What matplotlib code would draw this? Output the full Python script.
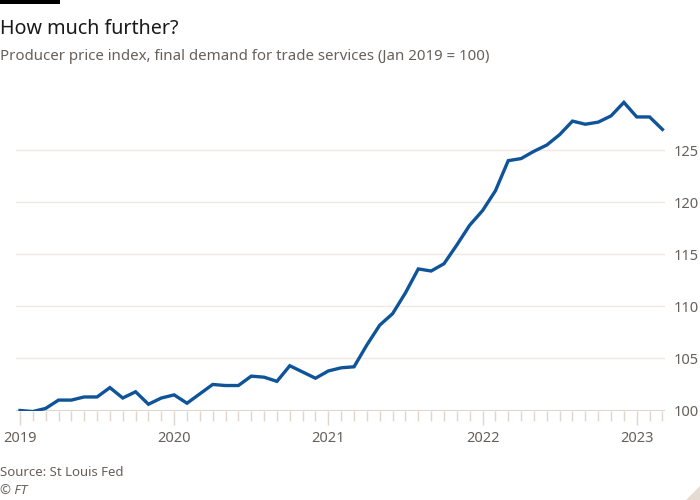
import matplotlib.pyplot as plt
import matplotlib.patches as patches
import numpy as np

plt.rcParams['font.family'] = ['Noto Sans', 'DejaVu Sans']

# monthly index, Jan 2019 .. Mar 2023 (Jan 2019 = 100)
ppi = [100.0, 99.9, 100.2, 101.0, 101.0, 101.3, 101.3, 102.2, 101.2, 101.8, 100.6, 101.2,
       101.5, 100.7, 101.6, 102.5, 102.4, 102.4, 103.3, 103.2, 102.8, 104.3, 103.7, 103.1,
       103.8, 104.1, 104.2, 106.3, 108.2, 109.3, 111.3, 113.6, 113.4, 114.1, 115.9, 117.8,
       119.2, 121.1, 124.0, 124.2, 124.9, 125.5, 126.5, 127.8, 127.5, 127.7, 128.3, 129.6,
       128.2, 128.2, 127.0]
years = ['2019', '2020', '2021', '2022', '2023']
yticks = [100, 105, 110, 115, 120, 125]

blue = '#0f5499'
grid_c = '#f0e8e1'
axis_c = '#e0d6cd'
text_c = '#66605c'

fig = plt.figure(figsize=(7, 5), dpi=100)
ax = fig.add_axes([0.023, 0.179, 0.927, 0.635])

months = np.arange(len(ppi))
ax.plot(months, ppi, color=blue, lw=2.4, solid_joinstyle='miter', zorder=3)

ax.set_xlim(-0.3, 50.2)
ax.set_ylim(100, 130.5)

ax.yaxis.tick_right()
ax.set_yticks(yticks)
ax.set_yticklabels([str(v) for v in yticks])
ax.tick_params(axis='y', length=0, pad=6, labelsize=10.5, labelcolor=text_c)
for v in yticks[1:]:
    ax.axhline(v, color=grid_c, lw=1, zorder=1)
ax.axhline(100, color=axis_c, lw=1.5, zorder=2)

ax.set_xticks(np.arange(0, len(ppi), 12))
ax.set_xticklabels(years)
ax.set_xticks(months, minor=True)
ax.tick_params(axis='x', which='major', length=10, width=1, color=axis_c,
               labelsize=10.5, labelcolor=text_c, pad=5)
ax.tick_params(axis='x', which='minor', length=7, width=1, color=axis_c)

for s in ax.spines.values():
    s.set_visible(False)

fig.add_artist(patches.Rectangle((0, 0.992), 0.086, 0.008, transform=fig.transFigure,
                                 color='black', lw=0))
fig.text(0.0, 0.963, 'How much further?', fontsize=14.2, color='#1a1a1a', va='top')
fig.text(0.0, 0.903, 'Producer price index, final demand for trade services (Jan 2019 = 100)',
         fontsize=10.8, color=text_c, va='top')
fig.text(0.0, 0.054, 'Source: St Louis Fed', fontsize=9.5, color=text_c, va='center')
fig.text(0.0, 0.018, '\u00a9 FT', fontsize=9.5, color=text_c, style='italic', va='center')
fig.add_artist(patches.Polygon([(1, 0), (1, 0.028), (0.98, 0)], closed=True,
                               transform=fig.transFigure, color='#e6dbd2', lw=0))

fig.savefig('out.png', dpi=100)
